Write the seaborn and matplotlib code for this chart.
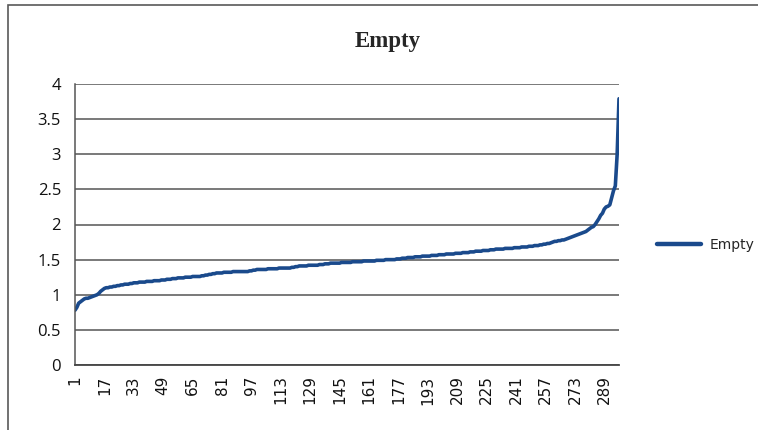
import numpy as np
import pandas as pd
import matplotlib
matplotlib.use("Agg")
import matplotlib.pyplot as plt
from matplotlib.patches import Rectangle
import seaborn as sns

# Data (sorted values, one per category 1..297)
series_name = "Empty"
values = [
    0.78, 0.82, 0.88, 0.90, 0.92, 0.94, 0.95, 0.95, 0.96, 0.97,
    0.98, 0.99, 1.00, 1.02, 1.05, 1.07, 1.09, 1.10, 1.10, 1.11,
    1.11, 1.12, 1.12, 1.13, 1.13, 1.14, 1.14, 1.15, 1.15, 1.15,
    1.16, 1.16, 1.17, 1.17, 1.17, 1.18, 1.18, 1.18, 1.18, 1.19,
    1.19, 1.19, 1.19, 1.20, 1.20, 1.20, 1.20, 1.21, 1.21, 1.21,
    1.22, 1.22, 1.22, 1.23, 1.23, 1.23, 1.24, 1.24, 1.24, 1.24,
    1.25, 1.25, 1.25, 1.25, 1.26, 1.26, 1.26, 1.26, 1.26, 1.27,
    1.27, 1.28, 1.28, 1.29, 1.29, 1.30, 1.30, 1.31, 1.31, 1.31,
    1.31, 1.32, 1.32, 1.32, 1.32, 1.32, 1.33, 1.33, 1.33, 1.33,
    1.33, 1.33, 1.33, 1.33, 1.33, 1.34, 1.34, 1.35, 1.35, 1.36,
    1.36, 1.36, 1.36, 1.36, 1.36, 1.37, 1.37, 1.37, 1.37, 1.37,
    1.37, 1.38, 1.38, 1.38, 1.38, 1.38, 1.38, 1.38, 1.39, 1.39,
    1.40, 1.40, 1.41, 1.41, 1.41, 1.41, 1.41, 1.42, 1.42, 1.42,
    1.42, 1.42, 1.42, 1.43, 1.43, 1.43, 1.44, 1.44, 1.44, 1.45,
    1.45, 1.45, 1.45, 1.45, 1.45, 1.46, 1.46, 1.46, 1.46, 1.46,
    1.46, 1.47, 1.47, 1.47, 1.47, 1.47, 1.47, 1.48, 1.48, 1.48,
    1.48, 1.48, 1.48, 1.48, 1.49, 1.49, 1.49, 1.49, 1.49, 1.50,
    1.50, 1.50, 1.50, 1.50, 1.50, 1.51, 1.51, 1.51, 1.52, 1.52,
    1.52, 1.53, 1.53, 1.53, 1.53, 1.54, 1.54, 1.54, 1.54, 1.55,
    1.55, 1.55, 1.55, 1.55, 1.56, 1.56, 1.56, 1.56, 1.57, 1.57,
    1.57, 1.57, 1.58, 1.58, 1.58, 1.58, 1.58, 1.59, 1.59, 1.59,
    1.59, 1.60, 1.60, 1.60, 1.60, 1.61, 1.61, 1.61, 1.62, 1.62,
    1.62, 1.62, 1.63, 1.63, 1.63, 1.63, 1.64, 1.64, 1.64, 1.65,
    1.65, 1.65, 1.65, 1.65, 1.66, 1.66, 1.66, 1.66, 1.66, 1.67,
    1.67, 1.67, 1.67, 1.68, 1.68, 1.68, 1.68, 1.69, 1.69, 1.69,
    1.70, 1.70, 1.70, 1.71, 1.71, 1.72, 1.72, 1.73, 1.73, 1.74,
    1.75, 1.76, 1.76, 1.77, 1.77, 1.78, 1.78, 1.79, 1.80, 1.81,
    1.82, 1.83, 1.84, 1.85, 1.86, 1.87, 1.88, 1.89, 1.90, 1.92,
    1.94, 1.96, 1.97, 2.00, 2.04, 2.08, 2.13, 2.16, 2.22, 2.25,
    2.26, 2.28, 2.38, 2.48, 2.55, 3.00, 3.79,
]
categories = list(range(1, len(values) + 1))
y_ticks = [0, 0.5, 1, 1.5, 2, 2.5, 3, 3.5, 4]
y_tick_labels = ["0", "0.5", "1", "1.5", "2", "2.5", "3", "3.5", "4"]
label_step = 16

LINE_COLOR = "#1a4a8c"
GRID_COLOR = "#555555"

df = pd.DataFrame({"category": categories, "value": values})

sns.set_style("white")
plt.rcParams["font.family"] = ["DejaVu Sans"]

fig = plt.figure(figsize=(7.58, 4.30), dpi=100)
ax = fig.add_axes([75 / 758, 1 - 365 / 430, (619 - 75) / 758, (365 - 84) / 430])

sns.lineplot(data=df, x="category", y="value", ax=ax, color=LINE_COLOR,
             linewidth=2.6, label=series_name)

ax.set_xlim(1, len(values))
ax.set_ylim(0, 4)
ax.set_xlabel("")
ax.set_ylabel("")

# horizontal gridlines
ax.set_yticks(y_ticks)
ax.set_yticklabels(y_tick_labels, fontfamily="Open Sans", fontsize=12, color="#111111")
ax.yaxis.grid(True, color=GRID_COLOR, linewidth=1.1)
ax.set_axisbelow(True)

# one tick per category, label every 16th
ax.set_xticks(categories)
ax.set_xticklabels([str(c) if (c - 1) % label_step == 0 else "" for c in categories],
                   rotation=90, fontsize=11, color="#111111")
ax.tick_params(axis="x", length=4.5, width=1.1, color="#555555", pad=3)
ax.tick_params(axis="y", length=6, width=1, color=GRID_COLOR, pad=4)

for s in ["top", "right"]:
    ax.spines[s].set_visible(False)
ax.spines["left"].set_color(GRID_COLOR)
ax.spines["bottom"].set_color("#444444")
ax.spines["left"].set_linewidth(1.1)
ax.spines["bottom"].set_linewidth(1.3)

leg = ax.legend(loc="center left", bbox_to_anchor=(651 / 758, 1 - 245 / 430),
                bbox_transform=fig.transFigure, frameon=False, fontsize=10,
                handlelength=3.2, handletextpad=0.6, borderaxespad=0)
for line in leg.get_lines():
    line.set_linewidth(3.2)

fig.text(388 / 758, 1 - 42 / 430, "Empty", ha="center", va="center",
         fontfamily="Liberation Serif", fontweight="bold", fontsize=16.5)

# chart area border
fig.patches.append(Rectangle((8 / 758, -0.05), 0.995, 1 - 5 / 430 + 0.05,
                             transform=fig.transFigure, fill=False,
                             edgecolor="#595959", linewidth=1.2))

fig.savefig("out.png", dpi=100)
